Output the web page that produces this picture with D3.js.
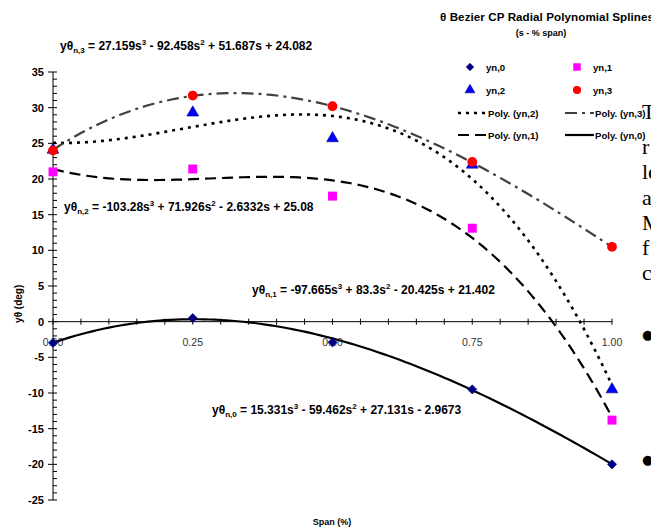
<!DOCTYPE html>
<html><head><meta charset="utf-8">
<script src="https://cdn.jsdelivr.net/npm/d3@7"></script>
<style>body{margin:0;background:#fff;}svg{display:block;font-family:Arial,"Liberation Sans",sans-serif;}</style>
</head><body>
<script>
// ---- data ----
const spans = [0, 0.25, 0.5, 0.75, 1.0];
const yn0 = [-2.97, 0.5, -2.9, -9.5, -20.0];
const yn1 = [21.0, 21.4, 17.6, 13.1, -13.8];
const yn2 = [24.1, 29.3, 25.7, 22.0, -9.5];
const yn3 = [24.0, 31.7, 30.2, 22.4, 10.5];
// trend-line coefficients as printed on the chart (s^3, s^2, s, const)
const poly0 = [15.331, -59.462, 27.131, -2.9673];
const poly1 = [-97.665, 83.3, -20.425, 21.402];
const poly2 = [-103.28, 71.926, -2.6332, 25.08];
const poly3 = [27.159, -92.458, 51.687, 24.082];
const xTickLabels = ["0.00", "0.25", "0.50", "0.75", "1.00"];
const yTicks = [35, 30, 25, 20, 15, 10, 5, 0, -5, -10, -15, -20, -25];
const eqLabels = [
  {sub: "n,3", parts: ["27.159s", "3", " - 92.458s", "2", " + 51.687s + 24.082"]},
  {sub: "n,2", parts: ["-103.28s", "3", " + 71.926s", "2", " - 2.6332s + 25.08"]},
  {sub: "n,1", parts: ["-97.665s", "3", " + 83.3s", "2", " - 20.425s + 21.402"]},
  {sub: "n,0", parts: ["15.331s", "3", " - 59.462s", "2", " + 27.131s - 2.9673"]}
];
const strayText = ["T", "r", "le", "a", "M", "f", "c", "\u25CF", "\u25CF"];

// ---- chart ----
const W = 651, H = 531;
const svg = d3.select("body").append("svg").attr("width", W).attr("height", H);
const x = d3.scaleLinear().domain([0, 1]).range([53, 612]);
const y = d3.scaleLinear().domain([-25, 35]).range([500, 72]);

// title
svg.append("text").attr("x", 440).attr("y", 21).attr("font-size", 11.6).attr("font-weight", "bold")
  .attr("textLength", 214).text("\u03B8 Bezier CP Radial Polynomial Splines");
svg.append("text").attr("x", 541).attr("y", 36).attr("text-anchor", "middle").attr("font-size", 9).attr("font-weight", "bold")
  .text("(s - % span)");

// y axis
const gy = svg.append("g");
gy.append("line").attr("x1", x(0)).attr("x2", x(0)).attr("y1", y(35)).attr("y2", y(-25)).attr("stroke", "#000");
gy.selectAll(".minor").data(d3.range(-25, 36, 1)).join("line")
  .attr("x1", x(0)).attr("x2", x(0) + 4).attr("y1", d => y(d)).attr("y2", d => y(d)).attr("stroke", "#000");
gy.selectAll(".major").data(yTicks).join("line")
  .attr("x1", x(0) - 5).attr("x2", x(0)).attr("y1", d => y(d)).attr("y2", d => y(d)).attr("stroke", "#000");
gy.selectAll("text").data(yTicks).join("text")
  .attr("x", x(0) - 9).attr("y", d => y(d) + 4).attr("text-anchor", "end")
  .attr("font-size", 11).attr("font-weight", "bold").text(d => d);

// x axis
const gx = svg.append("g");
gx.append("line").attr("x1", x(0)).attr("x2", x(1)).attr("y1", y(0)).attr("y2", y(0)).attr("stroke", "#000");
gx.selectAll("line.t").data(d3.range(0, 21)).join("line").attr("class", "t")
  .attr("x1", d => x(d / 20)).attr("x2", d => x(d / 20)).attr("y1", y(0) - 3).attr("y2", y(0) + 3).attr("stroke", "#000");
gx.selectAll("text").data(xTickLabels).join("text")
  .attr("x", d => x(+d)).attr("y", y(0) + 24).attr("text-anchor", "middle")
  .attr("font-size", 10.5).attr("fill", "#333").text(d => d);

// axis titles
svg.append("text").attr("transform", `translate(22,${y(2.5)}) rotate(-90)`).attr("text-anchor", "middle")
  .attr("font-size", 10).attr("font-weight", "bold").text("y\u03B8 (deg)");
svg.append("text").attr("x", 332).attr("y", 525).attr("text-anchor", "middle")
  .attr("font-size", 9).attr("font-weight", "bold").text("Span (%)");

// trend curves
const evalPoly = (c, s) => ((c[0] * s + c[1]) * s + c[2]) * s + c[3];
const sGrid = d3.range(0, 101).map(i => i / 100);
const line = d3.line().x(d => x(d[0])).y(d => y(d[1])).curve(d3.curveLinear);
const curves = [
  {c: poly0, dash: null, color: "#000", w: 2.2},
  {c: poly1, dash: "11,6", color: "#000", w: 2.2},
  {c: poly2, dash: "3,5", color: "#000", w: 2.6},
  {c: poly3, dash: "12,5,3,5", color: "#404040", w: 2.2}
];
curves.forEach(cv => {
  svg.append("path").attr("d", line(sGrid.map(s => [s, evalPoly(cv.c, s)])))
    .attr("fill", "none").attr("stroke", cv.color).attr("stroke-width", cv.w)
    .attr("stroke-dasharray", cv.dash);
});

// markers
const diamond = r => `M0,${-r}L${r},0L0,${r}L${-r},0Z`;
const sym = (type, size) => type === "diamond" ? diamond(Math.sqrt(size / 2)) : d3.symbol().type(type).size(size)();
const series = [
  {v: yn0, type: "diamond", size: 42, fill: "#000080", stroke: "#000080"},
  {v: yn1, type: d3.symbolSquare, size: 80, fill: "#FF00FF", stroke: "none"},
  {v: yn2, type: d3.symbolTriangle, size: 60, fill: "#0000FF", stroke: "#000080"},
  {v: yn3, type: d3.symbolCircle, size: 75, fill: "#FF0000", stroke: "none"}
];
series.forEach(sr => {
  svg.append("g").selectAll("path").data(spans).join("path")
    .attr("transform", (d, i) => `translate(${x(d)},${y(sr.v[i])})`)
    .attr("d", sym(sr.type, sr.size)).attr("fill", sr.fill).attr("stroke", sr.stroke).attr("stroke-width", 0.6);
});

// equation labels
const eqPos = [[60, 50], [64, 211], [252, 294], [212, 414]];
eqLabels.forEach((e, i) => {
  const t = svg.append("text").attr("x", eqPos[i][0]).attr("y", eqPos[i][1])
    .attr("font-size", 12).attr("font-weight", "bold");
  t.append("tspan").text("y\u03B8");
  t.append("tspan").attr("font-size", 8).attr("dy", 3).text(e.sub);
  t.append("tspan").attr("dy", -3).text(" = " + e.parts[0]);
  t.append("tspan").attr("font-size", 8).attr("dy", -5).text(e.parts[1]);
  t.append("tspan").attr("dy", 5).text(e.parts[2]);
  t.append("tspan").attr("font-size", 8).attr("dy", -5).text(e.parts[3]);
  t.append("tspan").attr("dy", 5).text(e.parts[4]);
});

// legend
const legItems = [
  {label: "yn,0", s: series[0], col: 0, row: 0},
  {label: "yn,1", s: series[1], col: 1, row: 0},
  {label: "yn,2", s: series[2], col: 0, row: 1},
  {label: "yn,3", s: series[3], col: 1, row: 1},
  {label: "Poly. (yn,2)", cv: curves[2], col: 0, row: 2},
  {label: "Poly. (yn,3)", cv: curves[3], col: 1, row: 2},
  {label: "Poly. (yn,1)", cv: curves[1], col: 0, row: 3},
  {label: "Poly. (yn,0)", cv: curves[0], col: 1, row: 3}
];
const colX = [458, 565], rowY = [67, 90, 113, 135];
legItems.forEach(it => {
  const lx = colX[it.col], ly = rowY[it.row];
  if (it.s) {
    svg.append("path").attr("transform", `translate(${lx + 12},${ly})`)
      .attr("d", sym(it.s.type, it.s.size * 0.7)).attr("fill", it.s.fill).attr("stroke", it.s.stroke).attr("stroke-width", 0.6);
  } else {
    svg.append("line").attr("x1", lx).attr("x2", lx + 29).attr("y1", ly).attr("y2", ly)
      .attr("stroke", it.cv.color).attr("stroke-width", it.cv.w).attr("stroke-dasharray", it.cv.dash);
  }
  svg.append("text").attr("x", it.s ? lx + 28 : lx + 30).attr("y", ly + 3.5)
    .attr("font-size", 9.6).attr("font-weight", "bold").text(it.label);
});

// stray document text on the right edge
const strayY = [119, 154, 179, 205, 230, 255, 280, 339, 464];
strayText.forEach((s, i) => {
  const bullet = s === "\u25CF";
  svg.append("text").attr("x", bullet ? 642 : 642).attr("y", strayY[i])
    .attr("font-family", bullet ? "'DejaVu Sans',sans-serif" : "'Liberation Serif','Times New Roman',serif")
    .attr("font-size", bullet ? 13 : 22).text(s);
});
</script>
</body></html>
